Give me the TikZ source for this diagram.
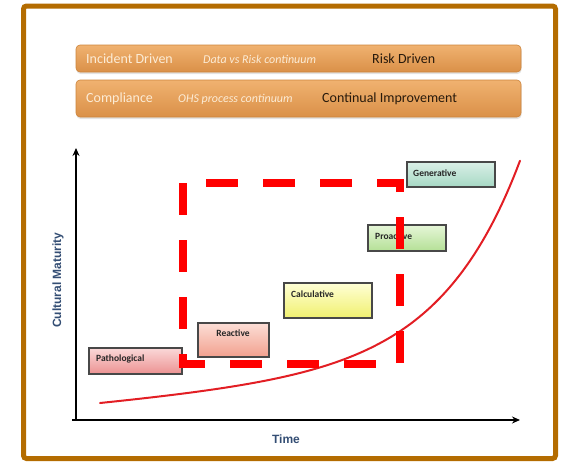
\documentclass[tikz,border=0pt]{standalone}
\usepackage{fontspec}
\setmainfont{Carlito}
\newfontfamily\axisfont{Liberation Sans}
\usetikzlibrary{arrows.meta,shadows}

\definecolor{framebrown}{RGB}{180,108,0}
\definecolor{bandtop}{RGB}{240,178,112}
\definecolor{bandbot}{RGB}{218,144,72}
\definecolor{bandedge}{RGB}{204,132,60}
\definecolor{bandlight}{RGB}{252,236,214}
\definecolor{banddark}{RGB}{40,26,12}
\definecolor{axislabel}{RGB}{52,78,116}
\definecolor{stageedge}{RGB}{72,72,72}
\definecolor{curvered}{RGB}{226,30,36}
\definecolor{zonered}{RGB}{255,0,0}

\begin{document}
\begin{tikzpicture}[x=1pt,y=-1pt,
  band/.style={draw=bandedge, line width=0.6pt, rounded corners=4pt,
    top color=bandtop, bottom color=bandbot, inner sep=0pt,
    drop shadow={opacity=0.22, shadow xshift=0.5pt, shadow yshift=-2pt}},
  bandtext/.style={anchor=west, inner sep=0pt, font=\fontsize{14}{16}\selectfont},
  bandnote/.style={anchor=west, inner sep=0pt, text=bandlight,
    font=\fontsize{12}{14}\selectfont\itshape},
  stage/.style={draw=stageedge, line width=1.2pt, inner sep=0pt},
  stagetext/.style={inner sep=0pt, text=black!85,
    font=\fontsize{9.5}{11}\selectfont\bfseries},
  axisline/.style={line width=2pt, draw=black},
  axistext/.style={inner sep=0pt, text=axislabel,
    font=\axisfont\fontsize{12}{14}\selectfont\bfseries}]

\useasboundingbox (0,0) rectangle (568,461);

% outer frame
\draw[framebrown, line width=5pt, rounded corners=3pt] (23.5,6) rectangle (555.5,458.5);

% continuum bands
\node[band, minimum width=445pt, minimum height=27pt] (bandA) at (298.5,58.5) {};
\node[band, minimum width=445pt, minimum height=37pt] (bandB) at (298.5,98.5) {};
\node[bandtext, text=bandlight] (incident) at (86,59) {Incident Driven};
\node[bandnote] (datarisk) at (203,59.5) {Data vs Risk continuum};
\node[bandtext, text=banddark] (riskdriven) at (372,59) {Risk Driven};
\node[bandtext, text=bandlight] (compliance) at (86,99) {Compliance};
\node[bandnote] (ohs) at (178,99.5) {OHS process continuum};
\node[bandtext, text=banddark] (continual) at (322,99) {Continual Improvement};

% axes
\coordinate (origin) at (76,420);
\coordinate (ytip) at (76,148);
\coordinate (xtip) at (520,420);
\draw[axisline, -{Stealth[length=8pt,width=7pt]}] (origin) -- (ytip);
\draw[axisline, -{Stealth[length=8pt,width=7pt]}] (72,420) -- (xtip);
\node[axistext] (timelabel) at (286,439) {Time};
\node[axistext, rotate=90] (maturity) at (58,280) {Cultural Maturity};

% maturity curve: slow linear rise plus an exponential take-off
\draw[curvered, line width=2pt, line cap=round]
  plot[domain=100:520, samples=90, smooth]
  (\x, {403 - 0.09*(\x-100) - 1.08*(exp(0.0125*(\x-100))-1)});

% stage boxes
\node[stage, minimum width=88pt, minimum height=25pt,
  top color={rgb,255:red,218;green,240;blue,231}, bottom color={rgb,255:red,166;green,216;blue,196}]
  (generative) at (451,174.5) {};
\node[stage, minimum width=78pt, minimum height=26pt,
  top color={rgb,255:red,230;green,246;blue,216}, bottom color={rgb,255:red,180;green,224;blue,150}]
  (proactive) at (407,238) {};
\node[stage, minimum width=88pt, minimum height=35pt,
  top color={rgb,255:red,255;green,255;blue,214}, bottom color={rgb,255:red,240;green,240;blue,110}]
  (calculative) at (328,300.5) {};
\node[stage, minimum width=71pt, minimum height=34pt,
  top color={rgb,255:red,252;green,222;blue,214}, bottom color={rgb,255:red,242;green,160;blue,142}]
  (reactive) at (233.5,340) {};
\node[stage, minimum width=93pt, minimum height=26pt,
  top color={rgb,255:red,250;green,216;blue,216}, bottom color={rgb,255:red,236;green,146;blue,146}]
  (pathological) at (135.5,361) {};

\node[stagetext, anchor=west] (generativeT) at (413,173) {Generative};
\node[stagetext, anchor=west] (proactiveT) at (375,236) {Proactive};
\node[stagetext, anchor=west] (calculativeT) at (291,294) {Calculative};
\node[stagetext] (reactiveT) at (233,333) {Reactive};
\node[stagetext, anchor=west] (pathologicalT) at (96,359) {Pathological};

% dashed focus zone
\draw[zonered, line width=7.5pt, dash pattern=on 32pt off 25pt]
  (183,183) -- (183,364) -- (400,364) -- (400,183) -- cycle;

\end{tikzpicture}
\end{document}
